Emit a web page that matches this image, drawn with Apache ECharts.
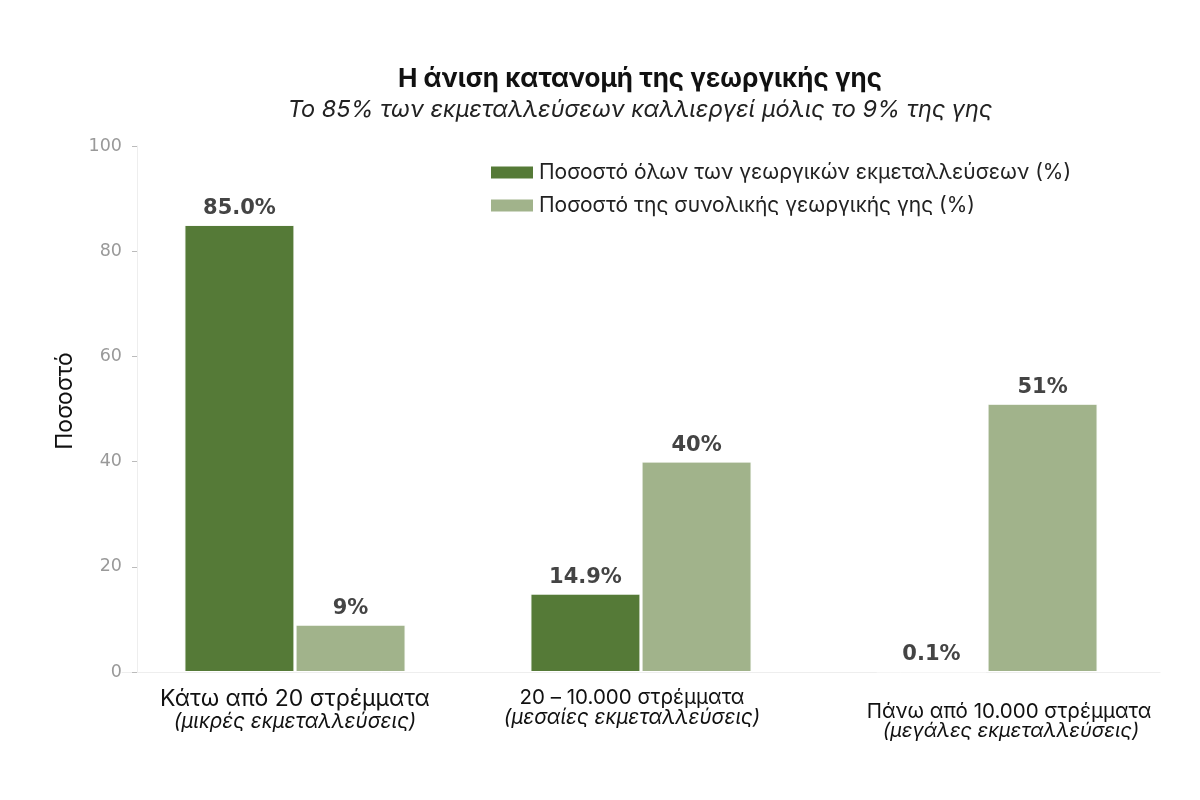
<!DOCTYPE html>
<html>
<head>
<meta charset="utf-8">
<script src="https://cdn.jsdelivr.net/npm/echarts@6/dist/echarts.min.js"></script>
<style>
  html, body { margin: 0; padding: 0; background: #fff; }
  #chart { width: 1200px; height: 800px; }
</style>
</head>
<body>
<div id="chart"></div>
<script>
// Data
var categoryMain = ['Κάτω από 20 στρέμματα', '20 – 10.000 στρέμματα', 'Πάνω από 10.000 στρέμματα'];
var categorySub = ['(μικρές εκμεταλλεύσεις)', '(μεσαίες εκμεταλλεύσεις)', '(μεγάλες εκμεταλλεύσεις)'];
var holdingsShare = [85.0, 14.9, 0.1];
var landShare = [9, 40, 51];
var seriesNames = ['Ποσοστό όλων των γεωργικών εκμεταλλεύσεων (%)', 'Ποσοστό της συνολικής γεωργικής γης (%)'];
var yTicks = [0, 20, 40, 60, 80, 100];

var darkGreen = '#557a37';
var lightGreen = '#a1b38b';
var mainFont = 'Inter';
var tickFont = 'DejaVu Sans';

var myChart = echarts.init(document.getElementById('chart'));

var barLabel = function (digits) {
    return {
        show: true,
        position: 'top',
        distance: 6,
        fontFamily: tickFont,
        fontWeight: 'bold',
        fontSize: 21,
        color: '#444',
        formatter: function (p) { return p.value.toFixed(digits) + '%'; }
    };
};

var option = {
    backgroundColor: '#fff',
    animation: false,
    title: {
        text: 'Η άνιση κατανομή της γεωργικής γης',
        subtext: 'Το 85% των εκμεταλλεύσεων καλλιεργεί μόλις το 9% της γης',
        left: 635,
        textAlign: 'center',
        top: 61,
        itemGap: 6,
        textStyle: { fontFamily: mainFont, fontSize: 26, fontWeight: 'bold', color: '#111' },
        subtextStyle: { fontFamily: mainFont, fontSize: 23.5, fontStyle: 'italic', color: '#222' }
    },
    legend: {
        orient: 'vertical',
        left: 489,
        top: 162,
        padding: 0,
        itemWidth: 44,
        itemHeight: 14,
        itemGap: 12,
        icon: 'rect',
        textStyle: { fontFamily: mainFont, fontSize: 21, color: '#222' },
        data: seriesNames
    },
    grid: {
        left: 122,
        right: 40,
        top: 146,
        bottom: 128
    },
    xAxis: {
        type: 'category',
        data: categoryMain,
        axisLine: { lineStyle: { color: '#eee', width: 1 } },
        axisTick: { alignWithLabel: true, length: 5, lineStyle: { color: '#bbb' } },
        axisLabel: {
            margin: 15,
            interval: 0,
            formatter: function (value, index) {
                if (index === 0) return '{m1|' + value + '}\n{s1|' + categorySub[index] + '}';
                if (index === 1) return '{m2|' + value + '}\n{s2|' + categorySub[index] + '}';
                return '{sp| }\n{m3|' + value + '}\n{s3|' + categorySub[index] + '}';
            },
            rich: {
                m1: { fontFamily: mainFont, fontSize: 23, lineHeight: 24, color: '#111' },
                s1: { fontFamily: mainFont, fontSize: 20.5, fontStyle: 'italic', lineHeight: 22, color: '#111' },
                m2: { fontFamily: mainFont, fontSize: 20.5, lineHeight: 22, color: '#111', padding: [0, 18, 0, 0] },
                s2: { fontFamily: mainFont, fontSize: 20.5, fontStyle: 'italic', lineHeight: 18, color: '#111', padding: [0, 18, 0, 0] },
                m3: { fontFamily: mainFont, fontSize: 20.5, lineHeight: 22, color: '#111', padding: [0, 0, 0, 44] },
                s3: { fontFamily: mainFont, fontSize: 20, fontStyle: 'italic', lineHeight: 16, color: '#111', padding: [0, 0, 0, 48] },
                sp: { fontSize: 10, lineHeight: 14 }
            }
        }
    },
    yAxis: {
        type: 'value',
        min: 0,
        max: 100,
        interval: 20,
        offset: -15,
        name: 'Ποσοστό',
        nameLocation: 'middle',
        nameGap: 60,
        nameTextStyle: { fontFamily: mainFont, fontSize: 23, color: '#111', padding: [0, 0, 0, 16] },
        splitLine: { show: false },
        axisLine: { show: true, lineStyle: { color: '#eee' } },
        axisTick: { show: true, length: 5, lineStyle: { color: '#bbb' } },
        axisLabel: {
            margin: 15,
            fontFamily: tickFont,
            fontSize: 17.5,
            color: '#999',
            formatter: function (v) { return yTicks.indexOf(v) >= 0 ? String(v) : ''; }
        }
    },
    series: [
        {
            name: seriesNames[0],
            type: 'bar',
            data: holdingsShare,
            barWidth: 110,
            barGap: '1%',
            itemStyle: { color: darkGreen, borderColor: '#fff', borderWidth: 1 },
            label: barLabel(1)
        },
        {
            name: seriesNames[1],
            type: 'bar',
            data: landShare,
            barWidth: 110,
            itemStyle: { color: lightGreen, borderColor: '#fff', borderWidth: 1 },
            label: barLabel(0)
        }
    ]
};

myChart.setOption(option);
</script>
</body>
</html>
